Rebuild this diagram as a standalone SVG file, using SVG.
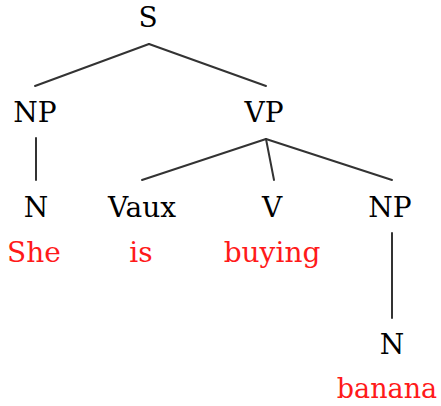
<svg xmlns="http://www.w3.org/2000/svg" width="441" height="406" viewBox="0 0 441 406">
<style>
text{font-family:"DejaVu Serif",serif;font-size:28px;text-anchor:middle}
.c{fill:#000}
.w{fill:#ff1a1a}
.e{stroke:#333;stroke-width:2;fill:none;stroke-linecap:round}
</style>
<rect width="441" height="406" fill="#fff"/>
<g id="connectors">
<line class="e" x1="149" y1="44" x2="35" y2="86"/>
<line class="e" x1="149" y1="44" x2="266" y2="86"/>
<line class="e" x1="36" y1="138" x2="36" y2="180"/>
<line class="e" x1="266" y1="139" x2="142" y2="180"/>
<line class="e" x1="266" y1="139" x2="274" y2="180"/>
<line class="e" x1="266" y1="139" x2="392" y2="180"/>
<line class="e" x1="392" y1="233" x2="392" y2="318"/>
</g>
<g id="S"><text class="c" x="148" y="27">S</text></g>
<g id="NP1"><text class="c" x="35" y="122">NP</text></g>
<g id="VP"><text class="c" x="264" y="122">VP</text></g>
<g id="N1"><text class="c" x="36" y="217">N</text><text class="w" x="34" y="262">She</text></g>
<g id="Vaux"><text class="c" x="142" y="217">Vaux</text><text class="w" x="141" y="262">is</text></g>
<g id="V"><text class="c" x="272" y="217">V</text><text class="w" x="272" y="262">buying</text></g>
<g id="NP2"><text class="c" x="390" y="217">NP</text></g>
<g id="N2"><text class="c" x="392" y="354">N</text><text class="w" x="387" y="398" style="font-size:27px">banana</text></g>
</svg>
